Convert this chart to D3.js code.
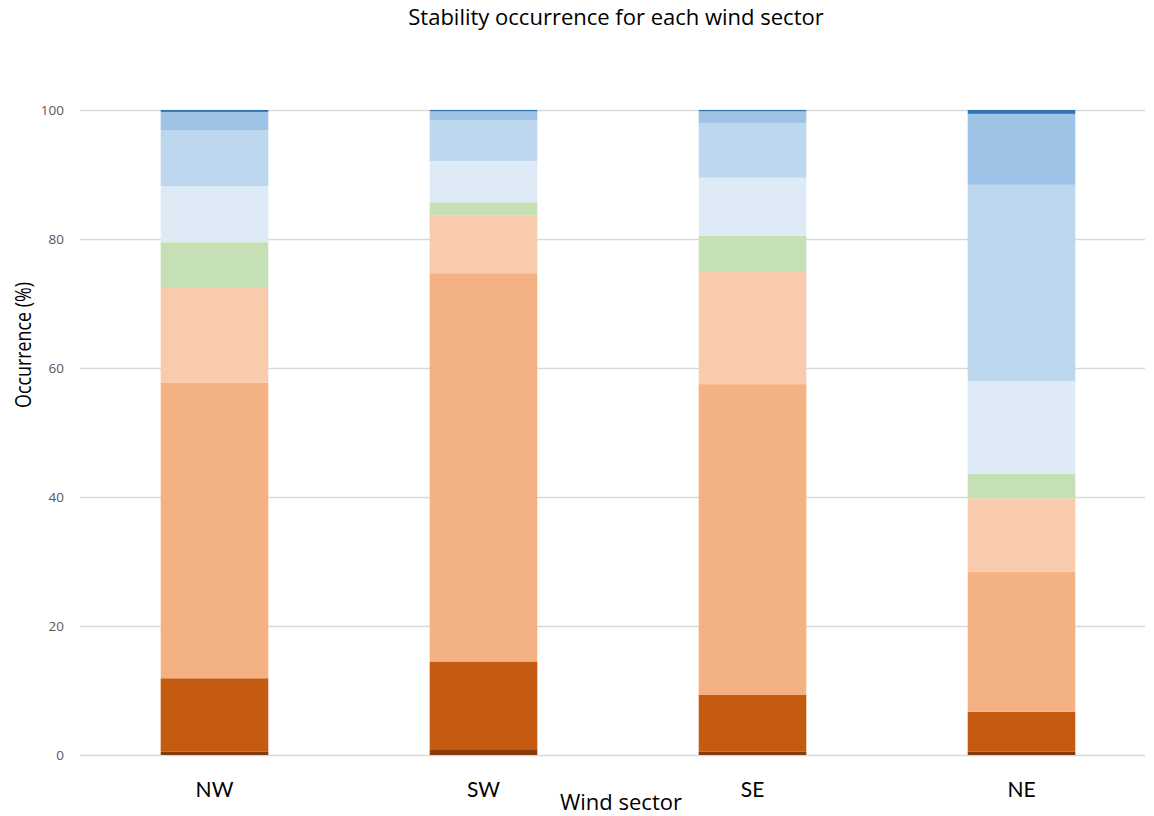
<!DOCTYPE html>
<html>
<head>
<meta charset="utf-8">
<script src="https://cdn.jsdelivr.net/npm/d3@7"></script>
<style>
  html, body { margin: 0; padding: 0; background: #fff; }
  svg { display: block; }
</style>
</head>
<body>
<svg id="chart" width="1154" height="816"></svg>
<script>
// Wind sectors along the x axis
const sectors = ["NW", "SW", "SE", "NE"];

// Stability classes, bottom of the stack to top
const classes = ["c1", "c2", "c3", "c4", "c5", "c6", "c7", "c8", "c9"];
const classColors = ["#843C0C", "#C55A11", "#F4B183", "#F8CBAD", "#C5E0B4",
                     "#DEEBF7", "#BDD7EE", "#9DC3E6", "#2E75B6"];

// Occurrence (%) of each class per sector, same order as `sectors`
const c1 = [0.5, 0.9, 0.5, 0.5];
const c2 = [11.4, 13.6, 8.8, 6.2];
const c3 = [45.8, 60.2, 48.2, 21.7];
const c4 = [14.7, 8.9, 17.4, 11.4];
const c5 = [7.1, 2.1, 5.6, 3.8];
const c6 = [8.7, 6.4, 9.0, 14.4];
const c7 = [8.7, 6.3, 8.5, 30.4];
const c8 = [2.8, 1.4, 1.8, 11.0];
const c9 = [0.3, 0.2, 0.2, 0.6];

const yTicks = [0, 20, 40, 60, 80, 100];

const seriesValues = [c1, c2, c3, c4, c5, c6, c7, c8, c9];
const rows = sectors.map((s, i) => {
  const r = { sector: s };
  classes.forEach((c, k) => { r[c] = seriesValues[k][i]; });
  return r;
});

const svg = d3.select("#chart");
const labelFont = "Lato, 'Open Sans', sans-serif";
const titleFont = "'Open Sans', Lato, sans-serif";

const x = d3.scaleBand()
  .domain(sectors)
  .range([80, 1156])
  .paddingInner(0.6)
  .paddingOuter(0.3);

const y = d3.scaleLinear().domain([0, 100]).range([755, 110]);

// Horizontal gridlines with tick labels
const yAxis = svg.append("g")
  .attr("transform", "translate(80,0)")
  .call(d3.axisLeft(y).tickValues(yTicks).tickSize(-1065).tickPadding(16).tickFormat(d3.format("d")));
yAxis.select(".domain").remove();
yAxis.selectAll(".tick line").attr("stroke", "#D9D9D9").attr("stroke-width", 1.3);
yAxis.selectAll(".tick text")
  .attr("fill", "#595959")
  .style("font-family", "'Open Sans', sans-serif")
  .style("font-size", "13.5px");

// Stacked bars
const stack = d3.stack().keys(classes);
const layers = stack(rows);

svg.append("g")
  .selectAll("g")
  .data(layers)
  .join("g")
  .attr("fill", (d, i) => classColors[i])
  .selectAll("rect")
  .data(d => d)
  .join("rect")
  .attr("x", d => x(d.data.sector))
  .attr("width", x.bandwidth())
  .attr("y", d => y(d[1]))
  .attr("height", d => y(d[0]) - y(d[1]));

// Category labels
svg.append("g")
  .selectAll("text")
  .data(sectors)
  .join("text")
  .attr("x", d => x(d) + x.bandwidth() / 2)
  .attr("y", 797)
  .attr("text-anchor", "middle")
  .style("font-family", labelFont)
  .style("font-size", "21px")
  .attr("fill", "#000")
  .text(d => d);

// Axis titles
svg.append("text")
  .attr("x", 621)
  .attr("y", 810)
  .attr("text-anchor", "middle")
  .style("font-family", titleFont)
  .style("font-size", "22px")
  .text("Wind sector");

svg.append("text")
  .attr("transform", "translate(31,345) rotate(-90)")
  .attr("text-anchor", "middle")
  .attr("textLength", 126)
  .attr("lengthAdjust", "spacingAndGlyphs")
  .style("font-family", titleFont)
  .style("font-size", "21px")
  .text("Occurrence (%)");

// Chart title
svg.append("text")
  .attr("x", 616)
  .attr("y", 25)
  .attr("text-anchor", "middle")
  .style("font-family", titleFont)
  .style("font-size", "22px")
  .text("Stability occurrence for each wind sector");
</script>
</body>
</html>
